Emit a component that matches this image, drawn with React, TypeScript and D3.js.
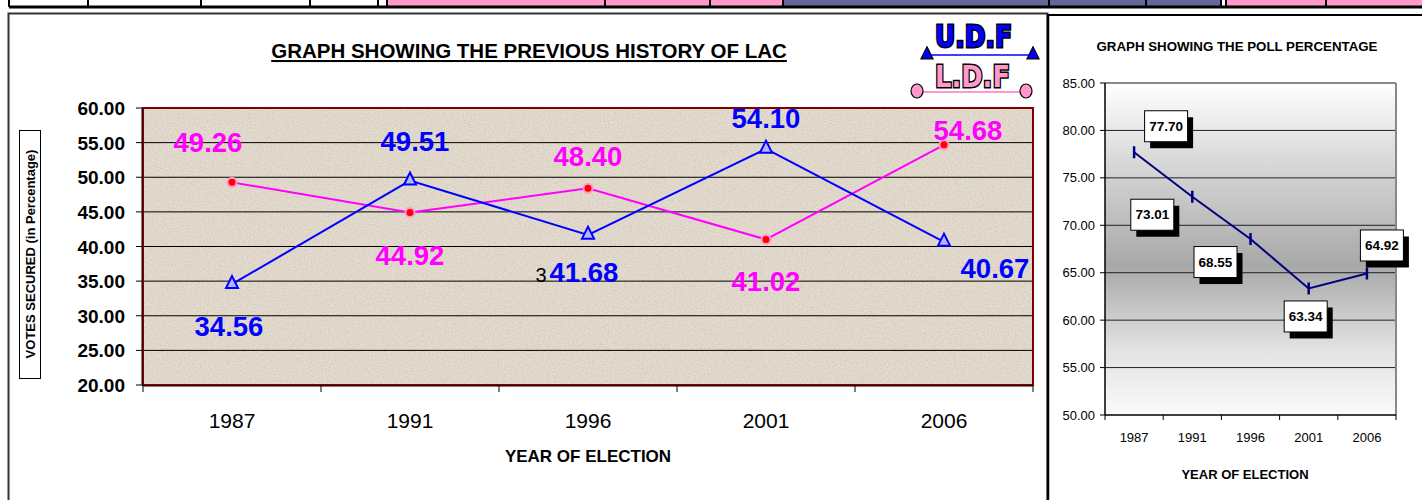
import React from 'react';
import * as d3 from 'd3';

const years = ['1987', '1991', '1996', '2001', '2006'];
const ldfVotes = [49.26, 44.92, 48.4, 41.02, 54.68];
const udfVotes = [34.56, 49.51, 41.68, 54.1, 40.67];
const pollPct = [77.7, 73.01, 68.55, 63.34, 64.92];
const voteTicks = [20, 25, 30, 35, 40, 45, 50, 55, 60];
const pollTicks = [50, 55, 60, 65, 70, 75, 80, 85];

// label placement offsets (relative to point)
const ldfLabelOff = [[-24, -30], [0, 53], [0, -22], [0, 52], [24, -5]];
const udfLabelOff = [[-3, 52], [5, -30], [-4, 47], [0, -21], [51, 36]];
const pollLabelOff = [[32, -26], [-40, 18], [-35, 23], [-3, 28], [15, -28]];

const stripCells = [
  { x0: 9, x1: 387, c: '#ffffff' },
  { x0: 387, x1: 783, c: '#ff99cc' },
  { x0: 783, x1: 1221, c: '#666699' },
  { x0: 1226, x1: 1422, c: '#ff99cc' },
];
const stripLines = [9, 88, 201, 310, 378, 387, 605, 710, 783, 1049, 1146, 1221, 1226, 1326];

const F = 'Arial, "Liberation Sans", Helvetica, sans-serif';

export default function App() {
  React.useEffect(() => {
    document.body.style.margin = '0';
  }, []);

  // left chart
  const L = { x0: 143, x1: 1033, y0: 108, y1: 385 };
  const xL = d3.scaleBand<string>().domain(years).range([L.x0, L.x1]);
  const yL = d3.scaleLinear().domain([20, 60]).range([L.y1, L.y0]);
  const cxL = (i: number) => (xL(years[i]) as number) + xL.bandwidth() / 2;
  const lineL = d3
    .line<number>()
    .x((_, i) => cxL(i))
    .y((d) => yL(d));

  // right chart
  const R = { x0: 1105, x1: 1396, y0: 83, y1: 415 };
  const xR = d3.scaleBand<string>().domain(years).range([R.x0, R.x1]);
  const yR = d3.scaleLinear().domain([50, 85]).range([R.y1, R.y0]);
  const cxR = (i: number) => (xR(years[i]) as number) + xR.bandwidth() / 2;
  const lineR = d3
    .line<number>()
    .x((_, i) => cxR(i))
    .y((d) => yR(d));

  const tri = (cx: number, cy: number, s: number) =>
    `M${cx},${cy - s * 0.6} L${cx + s / 2},${cy + s * 0.4} L${cx - s / 2},${cy + s * 0.4} Z`;

  return (
    <svg
      width={1422}
      height={500}
      style={{ position: 'absolute', left: 0, top: 0, display: 'block' }}
      fontFamily={F}
    >
      <defs>
        <filter id="noise" filterUnits="userSpaceOnUse" x={L.x0} y={L.y0} width={L.x1 - L.x0} height={L.y1 - L.y0}>
          <feTurbulence type="fractalNoise" baseFrequency="0.7" numOctaves="3" seed="7" />
          <feColorMatrix
            type="matrix"
            values="0 0 0 0 0.55  0 0 0 0 0.48  0 0 0 0 0.4  0 0 0 -2.2 1.35"
          />
        </filter>
        <linearGradient id="pollBg" x1="0" y1="0" x2="0" y2="1">
          <stop offset="0" stopColor="#ffffff" />
          <stop offset="0.2" stopColor="#dedede" />
          <stop offset="0.55" stopColor="#a8a8a8" />
          <stop offset="0.8" stopColor="#e2e2e2" />
          <stop offset="1" stopColor="#fafafa" />
        </linearGradient>
      </defs>

      <rect x={0} y={0} width={1422} height={500} fill="#ffffff" />

      {/* top strip */}
      {stripCells.map((c, i) => (
        <rect key={i} x={c.x0} y={0} width={c.x1 - c.x0} height={7} fill={c.c} />
      ))}
      {stripLines.map((x, i) => (
        <line key={i} x1={x} x2={x} y1={0} y2={7} stroke="#000" strokeWidth={2} />
      ))}
      <line x1={9} x2={1422} y1={7} y2={7} stroke="#000" strokeWidth={3} />

      {/* panels */}
      <rect x={8.5} y={13.5} width={1039} height={500} fill="none" stroke="#333" strokeWidth={2} />
      <line x1={1048} x2={1048} y1={14} y2={500} stroke="#000" strokeWidth={2.5} />
      <line x1={1048} x2={1422} y1={15} y2={15} stroke="#000" strokeWidth={2} />

      {/* ===== LEFT CHART ===== */}
      <text x={529} y={58} textAnchor="middle" fontSize={20.5} fontWeight="bold" textDecoration="underline">
        GRAPH SHOWING THE PREVIOUS HISTORY OF LAC
      </text>

      <rect x={L.x0} y={L.y0} width={L.x1 - L.x0} height={L.y1 - L.y0} fill="#e4dccf" />
      <rect x={L.x0} y={L.y0} width={L.x1 - L.x0} height={L.y1 - L.y0} filter="url(#noise)" opacity={0.5} />

      {voteTicks.map((t) => (
        <g key={t}>
          {t > 20 && t < 60 && (
            <line x1={L.x0} x2={L.x1} y1={yL(t)} y2={yL(t)} stroke="#000" strokeWidth={1} />
          )}
          <line x1={L.x0 - 7} x2={L.x0} y1={yL(t)} y2={yL(t)} stroke="#000" strokeWidth={1} />
          <text x={125} y={yL(t) + 7} textAnchor="end" fontSize={19} fontWeight="bold">
            {t.toFixed(2)}
          </text>
        </g>
      ))}
      <rect x={L.x0} y={L.y0} width={L.x1 - L.x0} height={L.y1 - L.y0} fill="none" stroke="#800000" strokeWidth={2} />
      <line x1={L.x0} x2={L.x1} y1={L.y1 + 1} y2={L.y1 + 1} stroke="#000" strokeWidth={1} />
      <line x1={L.x0 - 1} x2={L.x0 - 1} y1={L.y0} y2={L.y1} stroke="#000" strokeWidth={1} />

      {years.map((y, i) => (
        <g key={y}>
          <line
            x1={xL(y) as number}
            x2={xL(y) as number}
            y1={L.y1}
            y2={L.y1 + 7}
            stroke="#000"
            strokeWidth={1}
          />
          <text x={cxL(i)} y={428} textAnchor="middle" fontSize={21}>
            {y}
          </text>
        </g>
      ))}
      <line x1={L.x1} x2={L.x1} y1={L.y1} y2={L.y1 + 7} stroke="#000" strokeWidth={1} />
      <text x={588} y={462} textAnchor="middle" fontSize={17} fontWeight="bold">
        YEAR OF ELECTION
      </text>

      {/* y title */}
      <rect x={19.5} y={130.5} width={21} height={248} fill="#fff" stroke="#000" strokeWidth={1} />
      <text
        transform={`translate(35,${254}) rotate(-90)`}
        textAnchor="middle"
        fontSize={13}
        fontWeight="bold"
      >
        VOTES SECURED (in Percentage)
      </text>

      {/* lines */}
      <path d={lineL(ldfVotes) as string} fill="none" stroke="#ff00ff" strokeWidth={2} />
      <path d={lineL(udfVotes) as string} fill="none" stroke="#0000ff" strokeWidth={2} />
      {ldfVotes.map((v, i) => (
        <circle key={i} cx={cxL(i)} cy={yL(v)} r={4.5} fill="#ff0000" stroke="#ff99cc" strokeWidth={2} />
      ))}
      {udfVotes.map((v, i) => (
        <path key={i} d={tri(cxL(i), yL(v) - 1, 12)} fill="#b4b4ff" stroke="#0000ff" strokeWidth={2} />
      ))}

      {ldfVotes.map((v, i) => (
        <text
          key={i}
          x={cxL(i) + ldfLabelOff[i][0]}
          y={yL(v) + ldfLabelOff[i][1]}
          textAnchor="middle"
          fontSize={27.5}
          fontWeight="bold"
          fill="#ff00ff"
        >
          {v.toFixed(2)}
        </text>
      ))}
      {udfVotes.map((v, i) => (
        <text
          key={i}
          x={cxL(i) + udfLabelOff[i][0]}
          y={yL(v) + udfLabelOff[i][1]}
          textAnchor="middle"
          fontSize={27.5}
          fontWeight="bold"
          fill="#0000ff"
        >
          {v.toFixed(2)}
        </text>
      ))}
      <text x={cxL(2) - 47} y={yL(udfVotes[2]) + udfLabelOff[2][1]} textAnchor="middle" fontSize={20} fill="#000">
        3
      </text>

      {/* legend */}
      <line x1={926} x2={1034} y1={55} y2={55} stroke="#0000ff" strokeWidth={1.5} />
      <path d={tri(927, 54, 12)} fill="#0000ff" stroke="#000" strokeWidth={1.2} />
      <path d={tri(1033, 54, 12)} fill="#0000ff" stroke="#000" strokeWidth={1.2} />
      <text
        x={935}
        y={47}
        fontSize={31}
        fontWeight="bold"
        fontFamily="'DejaVu Sans', sans-serif"
        textLength={77}
        lengthAdjust="spacingAndGlyphs"
        fill="#0000ff"
        stroke="#000"
        strokeWidth={3}
        paintOrder="stroke"
      >
        U.D.F
      </text>
      <line x1={918} x2={1026} y1={92} y2={92} stroke="#ff99cc" strokeWidth={2} />
      <ellipse cx={917} cy={91} rx={6} ry={7} fill="#ff99cc" stroke="#000" strokeWidth={1.2} />
      <ellipse cx={1026} cy={91} rx={6} ry={7} fill="#ff99cc" stroke="#000" strokeWidth={1.2} />
      <text
        x={935}
        y={87}
        fontSize={31}
        fontWeight="bold"
        fontFamily="'DejaVu Sans', sans-serif"
        textLength={75}
        lengthAdjust="spacingAndGlyphs"
        fill="#ff99cc"
        stroke="#000"
        strokeWidth={3}
        paintOrder="stroke"
      >
        L.D.F
      </text>

      {/* ===== RIGHT CHART ===== */}
      <text x={1237} y={51} textAnchor="middle" fontSize={13.3} fontWeight="bold">
        GRAPH SHOWING THE POLL PERCENTAGE
      </text>
      <rect x={R.x0} y={R.y0} width={R.x1 - R.x0} height={R.y1 - R.y0} fill="url(#pollBg)" />
      {pollTicks.map((t) => (
        <g key={t}>
          {t > 50 && t < 85 && (
            <line x1={R.x0} x2={R.x1} y1={yR(t)} y2={yR(t)} stroke="#222" strokeWidth={1} />
          )}
          <line x1={R.x0 - 5} x2={R.x0} y1={yR(t)} y2={yR(t)} stroke="#000" strokeWidth={1} />
          <text x={1095} y={yR(t) + 4.5} textAnchor="end" fontSize={13}>
            {t.toFixed(2)}
          </text>
        </g>
      ))}
      <line x1={R.x0} x2={R.x1} y1={R.y0} y2={R.y0} stroke="#888" strokeWidth={2} />
      <line x1={R.x1} x2={R.x1} y1={R.y0} y2={R.y1} stroke="#888" strokeWidth={2} />
      <line x1={R.x0} x2={R.x0} y1={R.y0} y2={R.y1} stroke="#000" strokeWidth={1.5} />
      <line x1={R.x0} x2={R.x1} y1={R.y1} y2={R.y1} stroke="#000" strokeWidth={1.5} />
      {years.map((y, i) => (
        <g key={y}>
          <line x1={xR(y) as number} x2={xR(y) as number} y1={R.y1} y2={R.y1 + 5} stroke="#000" strokeWidth={1} />
          <text x={cxR(i)} y={442} textAnchor="middle" fontSize={13}>
            {y}
          </text>
        </g>
      ))}
      <line x1={R.x1} x2={R.x1} y1={R.y1} y2={R.y1 + 5} stroke="#000" strokeWidth={1} />
      <text x={1245} y={479} textAnchor="middle" fontSize={13} fontWeight="bold">
        YEAR OF ELECTION
      </text>

      <path d={lineR(pollPct) as string} fill="none" stroke="#000080" strokeWidth={2} />
      {pollPct.map((v, i) => (
        <line key={i} x1={cxR(i)} x2={cxR(i)} y1={yR(v) - 6} y2={yR(v) + 6} stroke="#000080" strokeWidth={2.5} />
      ))}
      {pollPct.map((v, i) => {
        const cx = cxR(i) + pollLabelOff[i][0];
        const cy = yR(v) + pollLabelOff[i][1];
        return (
          <g key={i}>
            <rect x={cx - 21 + 5} y={cy - 15 + 6} width={43} height={31} fill="#000" />
            <rect x={cx - 21.5} y={cy - 15.5} width={43} height={31} fill="#fff" stroke="#000" strokeWidth={1} />
            <text x={cx} y={cy + 4.5} textAnchor="middle" fontSize={13.5} fontWeight="bold">
              {v.toFixed(2)}
            </text>
          </g>
        );
      })}
    </svg>
  );
}
